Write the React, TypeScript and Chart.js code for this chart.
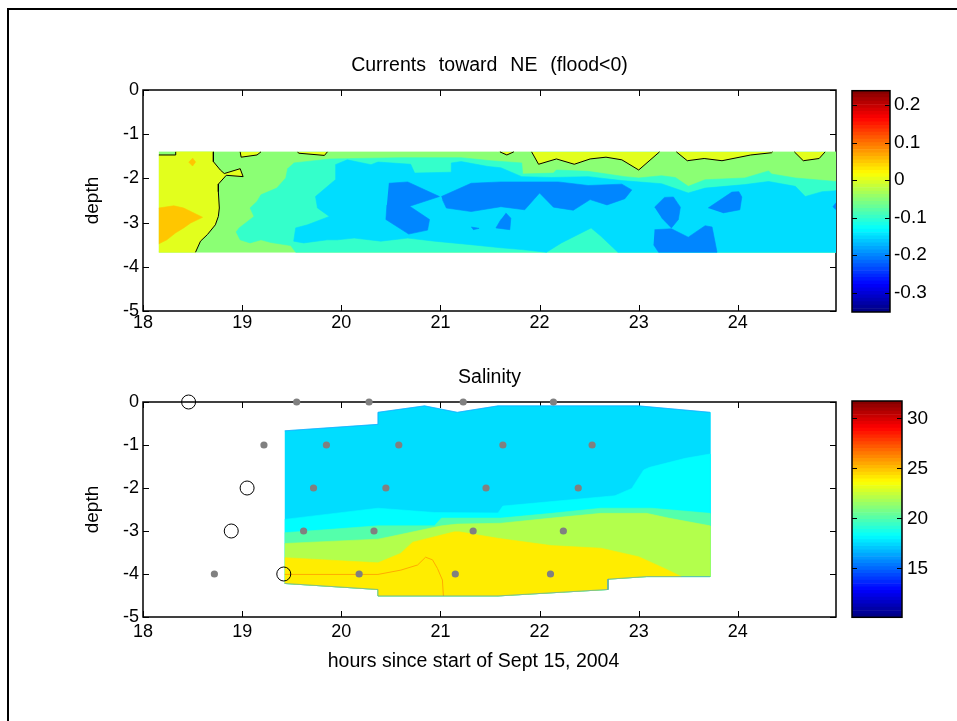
import React, { useEffect, useRef } from "react";
import { Chart, registerables } from "chart.js";

Chart.register(...registerables);

type Pt = [number, number];

const FONT_FAMILY = "'Liberation Sans', Arial, Helvetica, sans-serif";

// ---------------- shared axes ----------------
const timeTicks = [18, 19, 20, 21, 22, 23, 24];
const depthTicks = [0, -1, -2, -3, -4, -5];
const timeRange: Pt = [18, 24.99];
const depthRange: Pt = [-5, 0];
const xAxisTitle = "hours since start of Sept 15, 2004";
const yAxisTitle = "depth";

// ---------------- currents panel ----------------
const currentTitle = "Currents toward NE (flood<0)";
const currentClim: Pt = [-0.3514, 0.2381];
const currentBarTicks = [0.2, 0.1, 0, -0.1, -0.2, -0.3];
// contour levels (fill colour = jet(level))
const [lvBlue, lvCyanBlue, lvAqua, lvGreen, lvZero, lvOrange] = [-0.2, -0.15, -0.1, -0.05, 0, 0.05];

const currentDomain: Pt[] = [[18.16, -1.4], [24.99, -1.4], [24.99, -3.67], [18.16, -3.67]];
const zeroContourNotch: Pt[] = [[18.16, -1.47], [18.33, -1.47], [18.33, -1.4]];
const zeroContourMain: Pt[] = [
  [18.71, -1.4], [18.71, -1.62], [18.78, -1.81], [18.82, -1.89], [18.98, -1.78], [19.01, -1.96],
  [18.84, -1.93], [18.76, -2.13], [18.76, -2.3], [18.77, -2.67], [18.76, -2.86], [18.73, -3.05],
  [18.65, -3.27], [18.58, -3.42], [18.53, -3.67],
];
const zeroTopLobes: Pt[][] = [
  [[18.98, -1.4], [18.99, -1.52], [19.15, -1.47], [19.19, -1.4]],
  [[19.56, -1.4], [19.57, -1.43], [19.83, -1.48], [19.86, -1.4]],
  [[21.6, -1.4], [21.67, -1.47], [21.74, -1.4]],
  [[21.92, -1.4], [21.99, -1.68], [22.17, -1.56], [22.35, -1.68], [22.51, -1.56], [22.67, -1.52], [22.83, -1.58], [23.0, -1.81], [23.21, -1.4]],
  [[23.38, -1.4], [23.49, -1.6], [23.66, -1.55], [23.84, -1.6], [24.13, -1.47], [24.34, -1.42], [24.35, -1.4]],
  [[24.57, -1.4], [24.66, -1.6], [24.82, -1.55], [24.88, -1.4]],
];
const orangeBlob: Pt[] = [
  [18.16, -2.67], [18.31, -2.62], [18.41, -2.67], [18.6, -2.88], [18.48, -3.01], [18.41, -3.12],
  [18.33, -3.23], [18.24, -3.39], [18.16, -3.48],
];
const orangeSpot: Pt[] = [[18.5, -1.54], [18.53, -1.63], [18.5, -1.72], [18.46, -1.63]];
const aquaRegion: Pt[] = [
  [19.52, -1.65], [19.89, -1.56], [20.6, -1.53], [21.21, -1.53], [21.51, -1.6], [21.82, -1.65],
  [21.83, -1.9], [22.14, -1.88], [22.17, -1.81], [22.49, -1.84], [22.86, -1.96], [23.0, -1.99],
  [23.23, -1.94], [23.37, -1.98], [23.5, -2.18], [23.67, -2.03], [24.07, -1.99], [24.31, -1.83],
  [24.34, -1.9], [24.58, -1.99], [24.99, -2.07], [24.99, -3.67], [19.54, -3.67], [19.49, -3.52],
  [19.29, -3.45], [19.19, -3.39], [19.08, -3.46], [18.98, -3.39], [18.94, -3.21], [18.97, -3.12],
  [19.12, -2.86], [19.08, -2.67], [19.15, -2.52], [19.19, -2.37], [19.35, -2.22], [19.44, -1.99],
  [19.46, -1.77],
];
const cyanBlueRegion: Pt[] = [
  [19.94, -1.69], [20.06, -1.58], [20.3, -1.69], [20.37, -1.63], [20.7, -1.68], [20.74, -1.88],
  [21.11, -1.86], [21.11, -1.65], [21.21, -1.62], [21.48, -1.73], [21.61, -1.76], [21.82, -1.96],
  [22.12, -1.98], [22.49, -1.96], [22.83, -2.05], [23.23, -2.12], [23.5, -2.33], [23.67, -2.22],
  [24.07, -2.14], [24.31, -2.07], [24.58, -2.18], [24.68, -2.41], [24.85, -2.3], [24.99, -2.28],
  [24.99, -3.67], [22.79, -3.67], [22.62, -3.31], [22.52, -3.12], [22.22, -3.46], [22.07, -3.67],
  [21.82, -3.61], [21.61, -3.57], [21.31, -3.5], [20.94, -3.42], [20.67, -3.35], [20.4, -3.42],
  [20.13, -3.35], [19.96, -3.39], [19.86, -3.39], [19.62, -3.46], [19.52, -3.42], [19.54, -3.12],
  [19.66, -3.05], [19.88, -2.86], [19.76, -2.67], [19.74, -2.41], [19.94, -2.03],
];
const blueCores: Pt[][] = [
  [[20.48, -2.11], [20.67, -2.08], [20.99, -2.41], [20.69, -2.63], [20.89, -2.93], [20.87, -3.17], [20.68, -3.26], [20.45, -2.93], [20.46, -2.6]],
  [[21.01, -2.41], [21.31, -2.11], [21.61, -2.08], [22.19, -2.08], [22.49, -2.16], [22.83, -2.13], [22.93, -2.26], [22.86, -2.46], [22.68, -2.6], [22.51, -2.48], [22.34, -2.72], [22.14, -2.65], [22.0, -2.33], [21.85, -2.71], [21.61, -2.64], [21.31, -2.75], [21.06, -2.67], [21.02, -2.48]],
  [[21.66, -2.78], [21.71, -2.9], [21.7, -3.16], [21.56, -3.12], [21.61, -2.93]],
  [[21.31, -3.1], [21.39, -3.13], [21.33, -3.16]],
  [[23.16, -2.65], [23.26, -2.43], [23.35, -2.42], [23.42, -2.65], [23.4, -2.93], [23.33, -3.12], [23.23, -2.89]],
  [[23.16, -3.16], [23.33, -3.14], [23.5, -3.33], [23.67, -3.07], [23.74, -3.1], [23.79, -3.67], [23.2, -3.67], [23.15, -3.5]],
  [[23.7, -2.67], [23.94, -2.31], [24.01, -2.3], [24.04, -2.42], [24.02, -2.71], [23.85, -2.78]],
  [[24.99, -2.55], [24.96, -2.64], [24.99, -2.71]],
];

// ---------------- salinity panel ----------------
const salinityTitle = "Salinity";
const salinityClim: Pt = [10.1, 31.73];
const salinityBarTicks = [30, 25, 20, 15];
const [slBase, slCyan, slMint, slYellowGreen, slYellow, slOrange] = [17.5, 18.2, 20, 22, 24, 25.4];

const salinityDomain: Pt[] = [
  [19.43, -0.67], [20.37, -0.52], [20.37, -0.24], [20.84, -0.09], [21.17, -0.24], [21.58, -0.09],
  [23.0, -0.09], [23.72, -0.24], [23.72, -4.06], [23.08, -4.06], [22.69, -4.12], [22.69, -4.36],
  [21.58, -4.51], [20.37, -4.51], [20.37, -4.36], [19.43, -4.22],
];
const salinityTop: Pt[] = salinityDomain.slice(0, 8);
const salinityFloor: Pt[] = salinityDomain.slice(8);
const cyanContour: Pt[] = [
  [19.43, -2.73], [20.37, -2.47], [20.94, -2.57], [21.58, -2.58], [21.63, -2.42], [22.76, -2.18],
  [22.93, -2.01], [23.05, -1.58], [23.11, -1.52], [23.47, -1.31], [23.72, -1.21],
];
const mintContour: Pt[] = [
  [19.43, -3.04], [20.37, -2.88], [20.94, -2.88], [21.01, -2.7], [21.61, -2.7], [22.12, -2.59],
  [22.62, -2.47], [23.13, -2.47], [23.72, -2.59],
];
const yellowGreenContour: Pt[] = [
  [19.43, -3.29], [20.37, -3.19], [20.5, -3.13], [21.01, -2.88], [21.17, -2.84], [21.61, -2.82],
  [22.12, -2.7], [22.62, -2.59], [23.08, -2.59], [23.3, -2.7], [23.72, -2.88],
];
const yellowContour: Pt[] = [
  [19.43, -3.62], [20.37, -3.74], [20.6, -3.52], [20.72, -3.26], [21.14, -3.02], [21.19, -3.02],
  [21.58, -3.17], [22.12, -3.34], [22.62, -3.4], [23.0, -3.6], [23.26, -3.87], [23.43, -4.06],
];
const orangeContour: Pt[] = [
  [19.43, -4.01], [20.37, -4.01], [20.6, -3.91], [20.77, -3.79], [20.85, -3.61], [20.92, -3.67],
  [20.97, -3.87], [21.02, -4.14], [21.03, -4.51],
];
const sampleDepths = [0, -1, -2, -3, -4];
const sampleTimes: number[][] = [
  [19.55, 20.28, 21.23, 22.14],
  [19.22, 19.85, 20.58, 21.63, 22.53],
  [19.72, 20.45, 21.46, 22.39],
  [19.62, 20.33, 21.33, 22.24],
  [18.72, 20.18, 21.15, 22.11],
];
const ringTimes = [18.46, 19.05, 18.89, 19.42];
const ringDepths = [0, -2, -3, -4];

// ---------------- helpers ----------------
function jet(v: number, clim: Pt): string {
  const t = Math.min(1, Math.max(0, (v - clim[0]) / (clim[1] - clim[0])));
  const c = (a: number) => Math.round(255 * Math.min(1, Math.max(0, a)));
  const r = c(Math.min(4 * t - 1.5, -4 * t + 4.5));
  const g = c(Math.min(4 * t - 0.5, -4 * t + 3.5));
  const b = c(Math.min(4 * t + 0.5, -4 * t + 2.5));
  return `rgb(${r},${g},${b})`;
}

const toXY = (pts: Pt[]) => pts.map(([x, y]) => ({ x, y }));

function area(pts: Pt[], color: string) {
  return {
    data: toXY(pts), showLine: true, fill: "shape", backgroundColor: color,
    borderColor: color, borderWidth: 0.6, pointRadius: 0, tension: 0,
  };
}
function contourLine(pts: Pt[], color: string, width = 1) {
  return {
    data: toXY(pts), showLine: true, fill: false, borderColor: color,
    borderWidth: width, pointRadius: 0, tension: 0,
  };
}
function painterOrder(ds: any[]) {
  return ds.map((d, i) => ({ ...d, order: ds.length - i }));
}

function drawFrame(chart: any, o: any) {
  const { ctx, chartArea: a } = chart;
  const len = o.len;
  ctx.save();
  ctx.strokeStyle = "#000";
  ctx.lineWidth = 1;
  ctx.beginPath();
  if (o.xTicks) {
    const xs = chart.scales.x;
    for (const t of xs.ticks) {
      const p = Math.round(xs.getPixelForValue(t.value)) + 0.5;
      ctx.moveTo(p, a.bottom); ctx.lineTo(p, a.bottom - len);
      ctx.moveTo(p, a.top); ctx.lineTo(p, a.top + len);
    }
  }
  const ys = chart.scales.y;
  for (const t of ys.ticks) {
    const p = Math.round(ys.getPixelForValue(t.value)) + 0.5;
    ctx.moveTo(a.left, p); ctx.lineTo(a.left + len, p);
    ctx.moveTo(a.right, p); ctx.lineTo(a.right - len, p);
  }
  ctx.stroke();
  ctx.lineWidth = o.lineWidth;
  ctx.strokeRect(a.left, a.top, a.right - a.left, a.bottom - a.top);
  ctx.restore();
}
const framePlugin = {
  id: "frame",
  beforeDatasetsDraw(chart: any, _a: any, o: any) { if (!o.onTop) drawFrame(chart, o); },
  afterDatasetsDraw(chart: any, _a: any, o: any) { if (o.onTop) drawFrame(chart, o); },
};
// axes title (centred over the plot area) and x label (under the axes)
function drawText(ctx: any, text: string, x: number, y: number, size: number, wordSpacing: number) {
  ctx.save();
  ctx.font = `${size}px ${FONT_FAMILY}`;
  ctx.fillStyle = "#000";
  ctx.textAlign = "center";
  ctx.textBaseline = "middle";
  if ("wordSpacing" in ctx) ctx.wordSpacing = `${wordSpacing}px`;
  ctx.fillText(text, x, y);
  ctx.restore();
}
const labelPlugin = {
  id: "labels",
  afterDraw(chart: any, _a: any, o: any) {
    const { ctx, chartArea: a } = chart;
    const cx = (a.left + a.right) / 2;
    drawText(ctx, o.title, cx, a.top - o.titleGap, o.size, o.titleWordSpacing);
    if (o.xLabel) drawText(ctx, o.xLabel, cx + o.xLabelDx, a.bottom + o.xLabelGap, o.size, 0);
  },
};

function panelConfig(p: {
  title: string; titleWordSpacing: number; topPad: number; xHeight: number;
  tickPad: number; xLabel?: string; datasets: any[];
}) {
  return {
    type: "line",
    data: { datasets: painterOrder(p.datasets) },
    options: {
      responsive: false, animation: false, events: [],
      layout: { padding: { left: 77, right: 9, top: p.topPad, bottom: 0 } },
      plugins: {
        legend: { display: false }, tooltip: { enabled: false }, title: { display: false },
        frame: { len: 6, xTicks: true, lineWidth: 1.5, onTop: false },
        labels: {
          title: p.title, titleWordSpacing: p.titleWordSpacing, titleGap: 24, size: 19.5,
          xLabel: p.xLabel, xLabelDx: -16, xLabelGap: 45,
        },
      },
      scales: {
        x: {
          type: "linear", position: "bottom", min: timeRange[0], max: timeRange[1],
          afterBuildTicks: (s: any) => { s.ticks = timeTicks.map((value) => ({ value })); },
          afterFit: (s: any) => { s.height = p.xHeight; },
          grid: { display: false, drawTicks: false }, border: { display: false },
          ticks: {
            color: "#000", font: { family: FONT_FAMILY, size: 18 }, padding: p.tickPad,
            maxRotation: 0, autoSkip: false, callback: (v: any) => String(v),
          },
        },
        y: {
          type: "linear", position: "left", min: depthRange[0], max: depthRange[1],
          afterBuildTicks: (s: any) => { s.ticks = depthTicks.map((value) => ({ value })); },
          afterFit: (s: any) => { s.width = 66; },
          grid: { display: false, drawTicks: false }, border: { display: false },
          ticks: { color: "#000", font: { family: FONT_FAMILY, size: 18 }, padding: 4, callback: (v: any) => String(v) },
          title: { display: true, text: yAxisTitle, color: "#000", font: { family: FONT_FAMILY, size: 19 }, padding: { top: 4, bottom: 0 } },
        },
      },
    },
    plugins: [framePlugin, labelPlugin],
  };
}

function colorbarConfig(clim: Pt, ticks: number[], pad: any, axisWidth: number, labelPad: number) {
  const n = 64;
  const step = (clim[1] - clim[0]) / n;
  const datasets = Array.from({ length: n }, (_, i) => ({
    data: [[clim[0] + i * step, clim[0] + (i + 1) * step]],
    backgroundColor: jet(clim[0] + (i + 0.5) * step, clim),
    borderWidth: 0, barPercentage: 1, categoryPercentage: 1, grouped: false,
  }));
  return {
    type: "bar",
    data: { labels: [""], datasets },
    options: {
      responsive: false, animation: false, events: [],
      layout: { padding: pad },
      plugins: { legend: { display: false }, tooltip: { enabled: false }, frame: { len: 5, xTicks: false, lineWidth: 1.5, onTop: true } },
      scales: {
        x: { type: "category", display: false },
        y: {
          type: "linear", position: "right", min: clim[0], max: clim[1],
          afterBuildTicks: (s: any) => { s.ticks = ticks.map((value) => ({ value })); },
          afterFit: (s: any) => { s.width = axisWidth; },
          grid: { display: false, drawTicks: false }, border: { display: false },
          ticks: { color: "#000", font: { family: FONT_FAMILY, size: 19 }, padding: labelPad, callback: (v: any) => String(v) },
        },
      },
    },
    plugins: [framePlugin],
  };
}

function currentDatasets() {
  const cGreen = jet(lvGreen, currentClim);
  const cZero = jet(lvZero, currentClim);
  const cOrange = jet(lvOrange, currentClim);
  const cAqua = jet(lvAqua, currentClim);
  const cCyan = jet(lvCyanBlue, currentClim);
  const cBlue = jet(lvBlue, currentClim);
  const leftLobe: Pt[] = [...zeroContourNotch, ...zeroContourMain, [18.16, -3.67]];
  return [
    area(currentDomain, cGreen),
    area(leftLobe, cZero),
    ...zeroTopLobes.map((l) => area(l, cZero)),
    area(orangeBlob, cOrange),
    area(orangeSpot, cOrange),
    area(aquaRegion, cAqua),
    area(cyanBlueRegion, cCyan),
    ...blueCores.map((b) => area(b, cBlue)),
    contourLine(zeroContourNotch, "#000"),
    contourLine(zeroContourMain, "#000"),
    ...zeroTopLobes.map((l) => contourLine(l, "#000")),
  ];
}

function salinityDatasets() {
  const dots = sampleTimes.flatMap((row, i) => row.map((x) => ({ x, y: sampleDepths[i] })));
  const rings = ringTimes.map((x, i) => ({ x, y: ringDepths[i] }));
  return [
    area(salinityDomain, jet(slBase, salinityClim)),
    area([...cyanContour, ...salinityFloor], jet(slCyan, salinityClim)),
    area([...mintContour, ...salinityFloor], jet(slMint, salinityClim)),
    area([...yellowGreenContour, ...salinityFloor], jet(slYellowGreen, salinityClim)),
    area([...yellowContour, ...salinityFloor.slice(1)], jet(slYellow, salinityClim)),
    contourLine(orangeContour, jet(slOrange, salinityClim), 1),
    contourLine(salinityTop, "rgba(30,140,255,0.5)", 1),
    contourLine(salinityFloor, "rgba(30,140,255,0.5)", 1),
    { data: dots, showLine: false, pointRadius: 3.6, pointBackgroundColor: "#808080", pointBorderWidth: 0, borderColor: "#808080", clip: false },
    { data: rings, showLine: false, pointRadius: 7, pointBackgroundColor: "rgba(0,0,0,0)", pointBorderColor: "#000", pointBorderWidth: 1, borderColor: "#000", clip: false },
  ];
}

export default function App() {
  const topRef = useRef<HTMLCanvasElement>(null);
  const botRef = useRef<HTMLCanvasElement>(null);
  const cb1Ref = useRef<HTMLCanvasElement>(null);
  const cb2Ref = useRef<HTMLCanvasElement>(null);

  useEffect(() => {
    Chart.defaults.font.family = FONT_FAMILY;
    Chart.defaults.color = "#000";
    const charts = [
      new Chart(topRef.current as HTMLCanvasElement, panelConfig({
        title: currentTitle, titleWordSpacing: 7.5, topPad: 60,
        xHeight: 49, tickPad: 1, datasets: currentDatasets(),
      }) as any),
      new Chart(botRef.current as HTMLCanvasElement, panelConfig({
        title: salinityTitle, titleWordSpacing: 0, topPad: 62,
        xHeight: 104, tickPad: 4, xLabel: xAxisTitle,
        datasets: salinityDatasets(),
      }) as any),
      new Chart(cb1Ref.current as HTMLCanvasElement, colorbarConfig(currentClim, currentBarTicks,
        { left: 7, right: 0, top: 50.7, bottom: 28 }, 67, 4) as any),
      new Chart(cb2Ref.current as HTMLCanvasElement, colorbarConfig(salinityClim, salinityBarTicks,
        { left: 7, right: 0, top: 51, bottom: 32.7 }, 55, 5) as any),
    ];
    return () => charts.forEach((c) => c.destroy());
  }, []);

  const abs = (left: number, top: number): React.CSSProperties => ({ position: "absolute", left, top });
  return (
    <div style={{ position: "fixed", left: 0, top: 0, width: 957, height: 721, background: "#fff", overflow: "hidden" }}>
      <div style={{ position: "absolute", left: 7, top: 8, width: 950, height: 713, borderLeft: "2px solid #000", borderTop: "2px solid #000", boxSizing: "border-box" }} />
      <canvas ref={topRef} width={845} height={330} style={abs(0, 30)} />
      <canvas ref={botRef} width={845} height={381} style={abs(0, 340)} />
      <canvas ref={cb1Ref} width={112} height={300} style={abs(845, 40)} />
      <canvas ref={cb2Ref} width={112} height={300} style={abs(845, 350)} />
    </div>
  );
}
